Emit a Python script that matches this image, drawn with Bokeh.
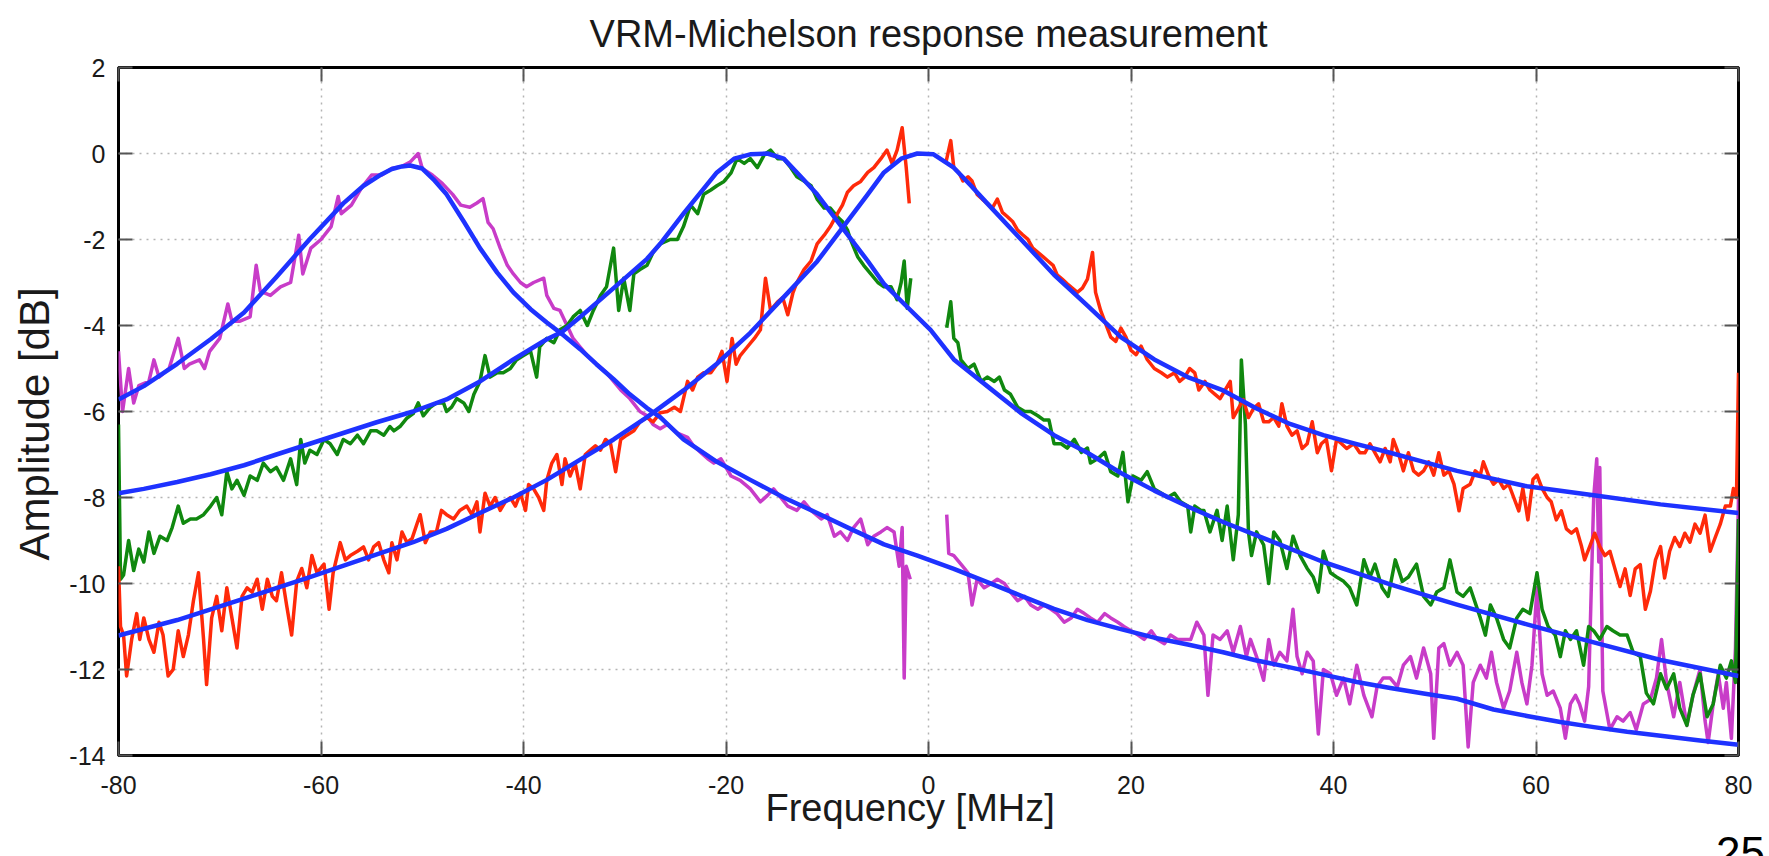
import math
from bokeh.plotting import figure
from bokeh.models import FixedTicker, LinearAxis, Range1d, Title, Div, PrintfTickFormatter
from bokeh.layouts import column
from bokeh.embed import file_html
from bokeh.resources import INLINE

NaN = float("nan")

title_text = "VRM-Michelson response measurement"
x_label = "Frequency [MHz]"
y_label = "Amplitude [dB]"
page_number = "25"
x_ticks = [-80, -60, -40, -20, 0, 20, 40, 60, 80]
y_ticks = [-14, -12, -10, -8, -6, -4, -2, 0, 2]

# ---- measured trace 1 (magenta, peak near -52 MHz) ----
mag_freq = [-80.0, -79.6, -79.0, -78.5, -78.0, -77.0, -76.5, -76.0, -75.0, -74.1, -73.5, -73.0, -72.0, -71.5,
            -71.0, -70.0, -69.2, -68.8, -68.0, -67.0, -66.4, -66.0, -65.0, -64.0, -63.0, -62.2, -61.8, -61.0,
            -60.0, -59.0, -58.3, -58.0, -57.0, -56.0, -55.0, -54.0, -53.0, -52.0, -51.2, -50.4, -50.0, -49.0,
            -48.0, -47.0, -46.2, -45.3, -44.6, -44.0, -43.5, -43.0, -42.3, -41.6, -41.0, -40.3, -39.7, -39.0,
            -38.0, -37.7, -37.0, -36.4, -35.7, -35.1, -34.4, -33.7, -32.8, -31.8, -31.1, -30.4, -29.5, -28.5,
            -27.8, -27.2, -26.5, -25.8, -24.8, -23.8, -23.2, -22.5, -21.8, -21.2, -20.5, -19.5, -18.6, -17.6,
            -16.6, -15.9, -15.3, -14.6, -13.9, -13.0, -12.3, -11.6, -10.6, -10.0, -9.3, -8.7, -8.0, -7.4,
            -6.7, -6.0, -5.4, -4.7, -4.1, -3.4, -2.9, -2.6, -2.4, -2.2, -1.8, 0.0,
            1.8, 2.0, 2.5, 3.2, 3.9, 4.3, 4.8, 5.5, 6.2, 6.8, 7.5, 8.1, 8.8, 9.5, 10.1, 10.8, 11.4, 12.1,
            12.7, 13.4, 14.1, 14.7, 15.4, 16.0, 16.7, 17.4, 18.0, 18.7, 19.3, 20.0, 20.7, 21.3, 22.0, 22.6,
            23.3, 23.9, 24.6, 25.3, 25.9, 26.5, 27.2, 27.6, 28.1, 28.8, 29.5, 30.1, 30.8, 31.4, 31.8, 32.4,
            33.1, 33.6, 34.1, 34.7, 35.4, 36.0, 36.4, 36.9, 37.4, 38.0, 38.5, 39.0, 39.7, 40.3, 41.0, 41.6,
            42.3, 43.0, 43.8, 44.3, 44.9, 45.6, 46.3, 46.9, 47.6, 48.2, 48.9, 49.6, 49.9, 50.4, 50.9, 51.5,
            52.2, 52.8, 53.3, 53.8, 54.5, 55.1, 55.6, 56.1, 56.8, 57.4, 58.1, 58.6, 59.1, 59.6, 60.1, 60.6,
            61.1, 61.7, 62.4, 62.9, 63.4, 63.9, 64.3, 64.8, 65.2, 65.7, 66.0, 66.2, 66.3, 66.6, 67.3, 68.0,
            68.6, 69.3, 69.9, 70.6, 71.3, 71.9, 72.4, 72.9, 73.6, 74.2, 74.9, 75.5, 76.2, 76.7, 77.0, 77.5,
            78.0, 78.5, 78.8, 79.3, 79.7, 80.0]
mag_amp = [-4.6, -6.0, -5.0, -5.8, -5.4, -5.3, -4.8, -5.2, -5.0, -4.3, -5.0, -4.9, -4.8, -5.0,
           -4.6, -4.3, -3.5, -3.9, -3.9, -3.8, -2.6, -3.2, -3.3, -3.1, -3.0, -1.9, -2.8, -2.2,
           -2.0, -1.7, -1.0, -1.4, -1.2, -0.8, -0.5, -0.5, -0.35, -0.3, -0.2, 0.0, -0.35, -0.5,
           -0.7, -0.95, -1.2, -1.25, -1.15, -1.05, -1.6, -1.75, -2.2, -2.6, -2.8, -3.0, -3.1, -3.0,
           -2.9, -3.3, -3.6, -3.65, -4.0, -4.3, -4.5, -4.7, -4.9, -5.1, -5.3, -5.5, -5.7, -6.0,
           -6.1, -6.3, -6.4, -6.3, -6.5, -6.6, -6.8, -6.95, -7.1, -7.2, -7.1, -7.5, -7.6, -7.8,
           -8.1, -7.95, -7.8, -8.0, -8.2, -8.3, -8.1, -8.3, -8.5, -8.4, -8.9, -8.8, -9.0, -8.7,
           -8.5, -9.1, -8.9, -8.8, -8.7, -8.8, -9.6, -8.7, -12.2, -9.6, -9.9, NaN,
           -8.4, -9.3, -9.35, -9.55, -9.75, -10.5, -9.9, -10.1, -10.0, -9.9, -10.0, -10.2, -10.4, -10.3, -10.5, -10.6, -10.5, -10.6,
           -10.7, -10.9, -10.8, -10.6, -10.7, -10.8, -10.9, -10.7, -10.8, -10.9, -11.0, -11.1, -11.2, -11.3, -11.1, -11.3,
           -11.4, -11.2, -11.3, -11.3, -11.3, -10.9, -11.2, -12.6, -11.2, -11.3, -11.1, -11.6, -11.0, -11.7, -11.3, -11.7,
           -12.25, -11.3, -11.9, -11.6, -11.8, -10.6, -11.7, -12.1, -11.6, -11.8, -13.5, -12.0, -12.1, -12.6, -12.2, -12.8,
           -11.9, -12.6, -13.1, -12.4, -12.2, -12.2, -12.4, -11.9, -11.7, -12.2, -11.5, -12.1, -13.6, -11.5, -11.4, -11.9,
           -11.6, -11.9, -13.8, -12.3, -11.9, -12.2, -11.6, -12.3, -12.9, -12.5, -11.6, -12.3, -12.8, -11.9, -10.1, -12.1,
           -12.6, -12.5, -12.9, -13.6, -12.8, -12.6, -12.8, -13.2, -12.4, -8.0, -7.1, -9.5, -7.3, -12.5, -13.4, -13.1,
           -13.2, -13.0, -13.4, -12.8, -12.7, -12.2, -11.3, -12.3, -13.1, -12.3, -13.3, -12.6, -12.0, -13.2, -13.7, -12.8,
           -12.1, -12.9, -12.3, -13.6, -11.5, -8.0]

# ---- measured trace 2 (green, peak near -16 MHz) ----
grn_freq = [-80.0, -79.8, -79.5, -79.0, -78.5, -78.0, -77.5, -77.0, -76.5, -75.9, -75.2, -74.7, -74.1, -73.6,
            -72.9, -72.3, -71.6, -70.9, -70.3, -69.8, -69.3, -68.8, -68.3, -67.6, -67.0, -66.3, -65.7, -65.0,
            -64.4, -63.7, -63.0, -62.4, -62.0, -61.6, -61.1, -60.4, -59.7, -59.1, -58.4, -57.8, -57.1, -56.4,
            -55.8, -55.1, -54.5, -53.8, -53.2, -52.8, -52.2, -51.5, -50.9, -50.4, -49.9, -49.2, -48.6, -47.9,
            -47.6, -47.1, -46.6, -45.9, -45.4, -44.9, -44.3, -43.8, -43.3, -42.6, -42.0, -41.3, -40.7, -40.0,
            -39.3, -38.7, -38.4, -37.7, -37.0, -36.4, -35.7, -35.1, -34.4, -33.7, -33.1, -32.4, -31.8, -31.1,
            -30.6, -30.1, -29.5, -29.1, -28.5, -27.8, -27.2, -26.5, -25.5, -24.8, -24.2, -23.5, -22.8, -22.2,
            -21.5, -20.9, -20.2, -19.5, -18.9, -18.2, -17.6, -16.9, -16.2, -15.6, -14.9, -14.3, -13.6, -13.0,
            -12.3, -11.6, -11.0, -10.3, -9.7, -9.0, -8.5, -8.0, -7.7, -7.0, -6.4, -5.7, -5.0, -4.4,
            -3.7, -3.1, -2.7, -2.4, -2.1, -1.75, 0.0,
            1.8, 2.2, 2.5, 2.9, 3.2, 3.9, 4.5, 5.2, 5.8, 6.5, 7.0, 7.5, 8.1, 8.8, 9.5, 10.1, 10.8, 11.4,
            11.9, 12.4, 13.1, 13.7, 14.4, 15.1, 15.7, 16.0, 16.7, 17.4, 18.0, 18.7, 19.2, 19.7, 20.2, 21.0,
            21.6, 22.3, 23.0, 23.6, 24.3, 24.9, 25.6, 25.9, 26.3, 26.9, 27.2, 27.8, 28.5, 29.0, 29.5, 30.1,
            30.6, 30.9, 31.3, 31.6, 31.9, 32.4, 33.1, 33.6, 34.1, 34.7, 35.4, 36.0, 36.7, 37.4, 38.0, 38.5,
            39.0, 39.7, 40.3, 41.0, 41.6, 42.3, 43.0, 43.6, 44.1, 44.8, 45.4, 46.1, 46.8, 47.4, 48.2, 48.9,
            49.6, 50.2, 50.9, 51.5, 52.2, 52.8, 53.5, 54.5, 55.0, 55.5, 56.1, 56.8, 57.4, 58.1, 58.7, 59.4,
            60.1, 60.6, 61.2, 61.9, 62.4, 62.9, 63.4, 64.0, 64.7, 65.2, 65.7, 66.3, 67.0, 67.6, 68.3, 69.0,
            69.6, 70.3, 70.9, 71.6, 72.3, 72.9, 73.6, 74.2, 74.9, 75.5, 76.2, 76.9, 77.5, 78.2, 78.8, 79.3,
            79.7, 80.0]
grn_amp = [-6.3, -9.9, -9.8, -9.0, -9.7, -9.2, -9.5, -8.8, -9.3, -8.9, -9.0, -8.7, -8.2, -8.6,
           -8.5, -8.5, -8.4, -8.2, -8.0, -8.4, -7.4, -7.8, -7.6, -7.95, -7.5, -7.6, -7.2, -7.4,
           -7.3, -7.6, -7.1, -7.7, -6.65, -7.2, -6.9, -7.0, -6.65, -6.75, -7.0, -6.65, -6.75, -6.55,
           -6.75, -6.45, -6.45, -6.55, -6.35, -6.45, -6.35, -6.15, -6.05, -5.8, -6.1, -5.9, -5.8, -5.8,
           -6.0, -5.9, -5.7, -5.8, -6.0, -5.6, -5.3, -4.7, -5.2, -5.1, -5.1, -5.0, -4.8, -4.7,
           -4.6, -5.2, -4.5, -4.3, -4.4, -4.1, -4.0, -3.8, -3.65, -4.0, -3.65, -3.3, -3.1, -2.2,
           -3.65, -2.9, -3.65, -2.8, -2.7, -2.6, -2.3, -2.1, -2.0, -2.0, -1.7, -1.2, -1.4, -0.95,
           -0.85, -0.75, -0.65, -0.45, -0.12, -0.23, -0.12, -0.33, -0.02, 0.08, -0.12, -0.12, -0.33, -0.54,
           -0.64, -0.75, -1.06, -1.27, -1.27, -1.47, -1.58, -1.78, -2.0, -2.4, -2.6, -2.8, -3.0, -3.1,
           -3.1, -3.4, -3.0, -2.5, -3.6, -2.9, NaN,
           -4.05, -3.45, -4.3, -4.4, -4.8, -5.0, -4.9, -5.3, -5.2, -5.3, -5.2, -5.5, -5.6, -5.9, -6.0, -6.0, -6.1, -6.2,
           -6.2, -6.75, -6.75, -6.85, -6.65, -6.95, -6.85, -7.2, -7.1, -6.95, -7.4, -7.5, -6.95, -8.1, -7.5, -7.6,
           -7.4, -7.8, -7.9, -8.0, -7.9, -8.1, -8.2, -8.8, -8.2, -8.3, -8.3, -8.8, -8.3, -9.0, -8.2, -9.45,
           -8.4, -4.8, -6.3, -8.8, -9.35, -8.8, -9.1, -10.0, -8.8, -9.0, -9.65, -8.9, -9.35, -9.65, -9.85, -10.2,
           -9.25, -9.75, -9.85, -9.95, -10.1, -10.5, -9.45, -9.85, -9.55, -10.1, -10.3, -9.45, -9.95, -9.85, -9.55, -10.3,
           -10.5, -10.2, -10.1, -9.45, -10.2, -10.3, -10.1, -10.8, -11.2, -10.5, -10.8, -11.3, -11.5, -10.8, -10.6, -10.7,
           -9.75, -10.6, -11.0, -11.2, -11.7, -11.1, -11.3, -11.1, -11.9, -11.0, -11.1, -11.3, -11.0, -11.1, -11.2, -11.2,
           -11.6, -11.7, -12.55, -12.8, -12.1, -12.45, -12.1, -12.9, -13.3, -12.6, -12.1, -13.1, -12.8, -11.9, -12.2, -11.8,
           -12.3, -8.5]

# ---- measured trace 3 (red, peak near 0 MHz) ----
red_freq = [-80.0, -79.8, -79.5, -79.2, -78.7, -78.2, -77.9, -77.5, -77.0, -76.5, -76.0, -75.6, -75.1, -74.6,
            -74.1, -73.6, -73.1, -72.6, -72.1, -71.6, -71.3, -70.8, -70.3, -69.8, -69.3, -68.8, -68.3, -67.8,
            -67.3, -66.8, -66.3, -65.8, -65.3, -64.8, -64.4, -63.9, -63.4, -62.9, -62.4, -61.9, -61.4, -60.9,
            -60.4, -59.7, -59.2, -58.8, -58.1, -57.6, -57.1, -56.4, -55.8, -55.3, -54.8, -54.3, -53.8, -53.3,
            -53.0, -52.5, -52.0, -51.5, -51.0, -50.5, -50.2, -49.7, -49.2, -48.6, -48.1, -47.6, -46.9, -46.3,
            -45.6, -45.1, -44.6, -44.3, -43.8, -43.3, -42.8, -42.3, -41.8, -41.3, -40.8, -40.3, -39.8, -39.5,
            -39.0, -38.5, -38.0, -37.7, -37.2, -36.7, -36.2, -35.9, -35.4, -34.9, -34.4, -33.9, -33.4, -32.9,
            -32.4, -31.9, -31.4, -30.9, -30.4, -29.8, -29.1, -28.5, -27.8, -27.2, -26.5, -25.8, -25.1, -24.5,
            -24.2, -23.8, -23.3, -22.8, -22.2, -21.5, -20.9, -20.4, -19.9, -19.4, -19.0, -18.6, -17.9, -17.2,
            -16.6, -16.1, -15.6, -14.9, -14.4, -13.9, -13.4, -13.0, -12.3, -11.6, -11.0, -10.3, -9.7, -9.0,
            -8.5, -8.0, -7.4, -6.7, -6.0, -5.4, -4.7, -4.1, -3.6, -3.1, -2.6, -2.2, -1.9, 0.0,
            1.7, 2.2, 2.5, 3.0, 3.4, 3.9, 4.3, 4.8, 5.3, 5.8, 6.3, 6.8, 7.3, 7.8, 8.3, 8.8, 9.3, 9.8,
            10.3, 10.8, 11.3, 11.8, 12.3, 12.7, 13.2, 13.7, 14.2, 14.7, 15.2, 15.7, 16.2, 16.5, 17.0, 17.5,
            18.0, 18.5, 19.0, 19.5, 20.0, 20.5, 21.0, 21.6, 22.3, 23.0, 23.6, 24.3, 24.8, 25.3, 25.8, 26.3,
            26.7, 27.3, 27.8, 28.3, 28.8, 29.3, 29.8, 30.1, 30.6, 31.1, 31.6, 32.1, 32.6, 33.1, 33.6, 34.1,
            34.6, 34.9, 35.4, 35.9, 36.4, 36.9, 37.4, 37.9, 38.4, 38.8, 39.3, 39.8, 40.3, 40.8, 41.3, 42.0,
            42.6, 43.1, 43.6, 44.1, 44.6, 45.1, 45.6, 45.9, 46.4, 46.9, 47.4, 47.9, 48.4, 48.9, 49.4, 49.9,
            50.4, 50.9, 51.4, 51.9, 52.4, 52.8, 53.5, 54.0, 54.5, 54.8, 55.3, 55.8, 56.3, 56.8, 57.3, 57.8,
            58.3, 58.7, 59.2, 59.7, 60.1, 60.6, 61.1, 61.5, 62.0, 62.5, 63.0, 63.5, 64.0, 64.5, 64.8, 65.3,
            65.8, 66.3, 66.8, 67.3, 67.8, 68.3, 68.8, 69.3, 69.8, 70.3, 70.8, 71.3, 71.8, 72.3, 72.7, 73.2,
            73.7, 74.2, 74.7, 75.2, 75.7, 76.2, 76.7, 77.2, 77.7, 78.2, 78.7, 79.2, 79.5, 79.8, 80.0]
red_amp = [-9.6, -11.0, -11.2, -12.15, -11.3, -10.7, -11.3, -10.8, -11.3, -11.6, -10.9, -11.2, -12.15, -12.0,
           -11.1, -11.7, -11.2, -10.4, -9.75, -11.3, -12.35, -10.8, -10.3, -11.1, -10.1, -10.8, -11.5, -10.3,
           -10.1, -10.2, -9.9, -10.6, -9.9, -10.3, -10.4, -9.75, -10.5, -11.2, -9.95, -9.65, -10.1, -9.35,
           -9.75, -9.55, -10.6, -9.75, -9.05, -9.45, -9.35, -9.25, -9.15, -9.45, -9.15, -9.05, -9.45, -9.75,
           -9.05, -9.45, -8.8, -9.05, -8.95, -8.6, -8.4, -9.05, -8.8, -8.8, -8.3, -8.4, -8.5, -8.3,
           -8.2, -8.4, -8.1, -8.8, -7.9, -8.2, -8.0, -8.3, -8.1, -8.0, -8.2, -7.9, -8.3, -7.7,
           -7.8, -8.0, -8.3, -7.6, -7.2, -7.0, -7.7, -7.1, -7.5, -7.2, -7.8, -7.0, -6.9, -6.8,
           -6.9, -6.65, -6.75, -7.4, -6.65, -6.55, -6.45, -6.24, -6.14, -6.24, -6.03, -6.0, -5.9, -6.0,
           -5.7, -5.3, -5.5, -5.2, -5.1, -5.1, -4.9, -4.6, -5.3, -4.3, -4.9, -4.7, -4.5, -4.3,
           -4.1, -2.9, -3.65, -3.45, -3.35, -3.75, -3.25, -3.0, -2.7, -2.5, -2.1, -1.9, -1.7, -1.4,
           -1.2, -0.9, -0.75, -0.65, -0.44, -0.33, -0.12, 0.08, -0.23, 0.08, 0.6, -0.33, -1.16, NaN,
           -0.23, 0.3, -0.33, -0.44, -0.64, -0.54, -0.64, -0.95, -1.06, -1.16, -1.27, -1.06, -1.37, -1.47, -1.58, -1.78, -1.89, -1.99,
           -2.2, -2.3, -2.4, -2.5, -2.6, -2.82, -2.92, -3.03, -3.13, -3.23, -3.13, -2.92, -2.3, -3.23, -3.65, -3.96,
           -4.27, -4.37, -4.06, -4.27, -4.58, -4.68, -4.48, -4.79, -5.0, -5.1, -5.2, -5.1, -5.3, -5.2, -5.0, -5.1,
           -5.5, -5.3, -5.5, -5.6, -5.7, -5.5, -5.3, -6.14, -5.93, -5.72, -6.14, -5.93, -5.82, -6.24, -6.24, -6.14,
           -6.34, -5.82, -6.34, -6.55, -6.45, -6.86, -6.75, -6.24, -6.96, -6.75, -6.65, -7.38, -6.65, -6.75, -6.86, -6.75,
           -6.96, -6.96, -6.75, -6.96, -7.17, -6.86, -7.17, -6.65, -6.96, -7.38, -6.96, -7.38, -7.48, -7.38, -7.17, -7.48,
           -6.96, -7.48, -7.38, -7.69, -8.31, -7.79, -7.69, -7.38, -7.48, -7.17, -7.48, -7.69, -7.58, -7.79, -7.69, -8.0,
           -8.31, -7.79, -8.52, -7.58, -7.48, -7.79, -8.0, -8.1, -8.52, -8.31, -8.73, -8.83, -8.73, -9.14, -9.45, -9.14,
           -8.83, -9.14, -9.35, -9.25, -9.66, -10.07, -9.66, -10.28, -9.66, -9.56, -10.6, -10.18, -9.45, -9.14, -9.87, -9.25,
           -8.93, -9.14, -8.83, -9.04, -8.62, -8.83, -8.41, -9.25, -8.93, -8.62, -8.2, -8.2, -7.79, -8.0, -5.1]

# ---- fitted responses (blue) ----
fit1_freq = [-80.0, -77.5, -74.2, -70.9, -67.6, -64.4, -61.1, -57.8, -55.8, -54.0, -53.0, -52.0, -51.2, -50.0,
             -48.9, -47.6, -45.9, -44.3, -42.6, -41.0, -39.3, -37.7, -36.2, -34.4, -32.8, -31.1, -29.5, -27.8,
             -26.5, -24.2, -20.9, -17.6, -14.3, -11.0, -7.7, -4.4, -1.1, 2.5, 5.8, 9.1, 12.4, 15.7, 19.0, 22.3,
             25.6, 29.1, 32.4, 35.7, 39.0, 42.3, 45.6, 48.9, 52.2, 55.8, 59.1, 62.4, 65.7, 69.0, 72.3, 76.2, 80.0]
fit1_amp = [-5.72, -5.41, -4.89, -4.32, -3.70, -2.87, -1.99, -1.16, -0.75, -0.48, -0.36, -0.30, -0.28, -0.35,
            -0.60, -0.95, -1.58, -2.20, -2.77, -3.23, -3.62, -3.93, -4.20, -4.55, -4.90, -5.25, -5.60, -5.92,
            -6.13, -6.65, -7.17, -7.59, -8.00, -8.36, -8.73, -9.09, -9.35, -9.66, -9.97, -10.28, -10.59, -10.85, -11.06, -11.26,
            -11.42, -11.60, -11.79, -11.95, -12.12, -12.29, -12.43, -12.56, -12.68, -12.93, -13.08, -13.22, -13.34, -13.45, -13.54, -13.65, -13.75]

fit2_freq = [-80.0, -77.5, -74.2, -70.9, -67.6, -64.4, -61.1, -57.8, -54.5, -50.9, -47.6, -44.3, -41.0, -37.7,
             -36.2, -34.4, -31.1, -27.8, -26.5, -24.2, -20.9, -19.2, -17.6, -15.9, -14.3, -12.6, -11.0, -8.5,
             -6.0, -4.4, -2.4, 0.2, 2.5, 5.8, 9.1, 12.4, 15.7, 19.0, 22.3, 25.6, 29.1, 32.4, 35.7, 39.0,
             42.3, 45.6, 48.9, 52.2, 59.1, 65.7, 72.3, 80.0]
fit2_amp = [-7.90, -7.80, -7.64, -7.46, -7.25, -7.00, -6.75, -6.50, -6.25, -6.00, -5.72, -5.30, -4.79, -4.32,
            -4.15, -3.80, -3.13, -2.45, -2.10, -1.40, -0.44, -0.12, -0.02, 0.00, -0.12, -0.54, -0.95, -1.73,
            -2.50, -3.03, -3.50, -4.10, -4.79, -5.41, -6.03, -6.55, -6.96, -7.43, -7.84, -8.21, -8.57, -8.88, -9.19, -9.50,
            -9.76, -10.02, -10.26, -10.49, -10.95, -11.37, -11.78, -12.15]

fit3_freq = [-80.0, -74.2, -67.6, -61.1, -54.2, -50.9, -47.6, -44.3, -41.0, -37.7, -34.4, -31.1, -27.8, -24.2,
             -20.9, -17.6, -14.3, -11.0, -8.5, -6.0, -4.4, -2.7, -1.1, 0.5, 2.5, 4.2, 5.8, 9.1, 12.4, 15.7,
             19.0, 22.3, 25.6, 29.1, 32.4, 35.7, 39.0, 42.3, 45.6, 48.9, 52.2, 59.1, 65.7, 72.3, 80.0]
fit3_amp = [-11.21, -10.85, -10.35, -9.85, -9.30, -9.04, -8.73, -8.36, -8.00, -7.59, -7.12, -6.65, -6.13, -5.51,
            -4.89, -4.17, -3.34, -2.51, -1.73, -0.95, -0.44, -0.12, 0.00, -0.02, -0.33, -0.75, -1.16, -1.99, -2.82, -3.54,
            -4.27, -4.79, -5.20, -5.51, -5.93, -6.29, -6.55, -6.76, -6.96, -7.17, -7.38, -7.74, -7.95, -8.16, -8.36]

MAGENTA = "#c83cc8"
GREEN = "#10880f"
RED = "#ff2a0a"
BLUE = "#1e32ff"
FONT = "Liberation Sans"
TEXT = "#1a1a1a"

p = figure(width=1769, height=856, x_range=Range1d(-80, 80), y_range=Range1d(-14, 2),
           output_backend="svg", toolbar_location=None,
           min_border_left=118, min_border_right=31, min_border_top=67, min_border_bottom=101,
           background_fill_color="white", border_fill_color="white")

p.title.text = title_text
p.title.align = "center"
p.title.text_font = FONT
p.title.text_font_size = "38px"
p.title.text_font_style = "normal"
p.title.text_color = TEXT
p.title.vertical_align = "top"
p.title.standoff = 22

p.outline_line_color = "black"
p.outline_line_width = 3
p.outline_line_alpha = 1.0

for ax in (p.xaxis[0], p.yaxis[0]):
    ax.axis_line_color = None
    ax.major_tick_in = 14
    ax.major_tick_out = 0
    ax.major_tick_line_color = "#555555"
    ax.major_tick_line_width = 2
    ax.minor_tick_line_color = None
    ax.major_label_text_font = FONT
    ax.major_label_text_font_size = "25px"
    ax.major_label_text_color = TEXT
    ax.formatter = PrintfTickFormatter(format="%d")
p.xaxis[0].ticker = FixedTicker(ticks=x_ticks)
p.yaxis[0].ticker = FixedTicker(ticks=y_ticks)
p.xaxis[0].major_label_standoff = 20
p.yaxis[0].major_label_standoff = 13

for loc, ticks in (("above", x_ticks), ("right", y_ticks)):
    ax = LinearAxis(ticker=FixedTicker(ticks=ticks), axis_line_color=None,
                    major_tick_in=14, major_tick_out=0, major_tick_line_color="#555555",
                    major_tick_line_width=2, minor_tick_line_color=None,
                    major_label_overrides={t: "" for t in ticks}, major_label_standoff=0)
    p.add_layout(ax, loc)

for g, ticks in ((p.xgrid[0], x_ticks), (p.ygrid[0], y_ticks)):
    g.ticker = FixedTicker(ticks=ticks)
    g.grid_line_color = "#b4b4b4"
    g.grid_line_dash = "2 5"
    g.grid_line_width = 1.5

p.line(mag_freq, mag_amp, line_color=MAGENTA, line_width=3.5, line_join="round")
p.line(grn_freq, grn_amp, line_color=GREEN, line_width=3.5, line_join="round")
p.line(red_freq, red_amp, line_color=RED, line_width=3.5, line_join="round")
for ff, aa in ((fit1_freq, fit1_amp), (fit2_freq, fit2_amp), (fit3_freq, fit3_amp)):
    p.line(ff, aa, line_color=BLUE, line_width=4.5, line_join="round")

p.add_layout(Title(text=x_label, align="left", offset=647, vertical_align="top", standoff=-20,
                   text_font=FONT, text_font_size="38px", text_font_style="normal", text_color=TEXT), "below")
p.add_layout(Title(text=y_label, align="left", offset=195, vertical_align="top", standoff=13,
                   text_font=FONT, text_font_size="42px", text_font_style="normal", text_color=TEXT), "left")

page_div = Div(text=page_number, width=60, height=25,
               styles={"position": "absolute", "left": "1716px", "top": "831px", "font-size": "44px",
                       "font-family": FONT, "line-height": "1", "overflow": "hidden", "color": "#000000",
                       "margin": "0", "padding": "0"})

page = column(p, page_div)
open("out.html", "w").write(file_html(page, INLINE))
